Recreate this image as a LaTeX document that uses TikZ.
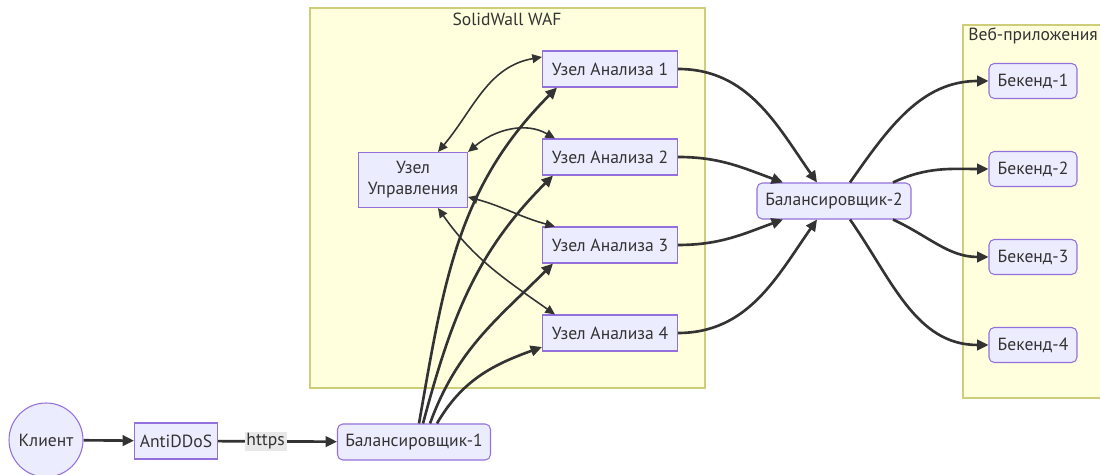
\documentclass[tikz,border=0pt]{standalone}
\usepackage{fontspec}
\setmainfont{PT Sans}
\usetikzlibrary{arrows.meta}

\definecolor{nodefill}{HTML}{ECECFF}
\definecolor{nodeline}{HTML}{9370DB}
\definecolor{clfill}{HTML}{FFFFDE}
\definecolor{clline}{HTML}{CDCD7A}
\definecolor{edgec}{HTML}{333333}
\definecolor{lblfill}{HTML}{E8E8E8}

\tikzset{
  box/.style={draw=nodeline, fill=nodefill, line width=0.6pt, text=edgec,
    minimum height=0.72cm, inner sep=2pt, font=\fontsize{10}{12}\selectfont},
  rbox/.style={box, rounded corners=3pt},
  cluster/.style={draw=clline, fill=clfill, line width=0.6pt},
  flow/.style={draw=edgec, line width=1.5pt, -{Triangle[length=6.5pt,width=6pt]}},
  ctrl/.style={draw=edgec, line width=0.9pt,
    {Triangle[length=5.5pt,width=5pt]}-{Triangle[length=5.5pt,width=5pt]}},
}

\begin{document}
\begin{tikzpicture}[x=0.02cm, y=0.02cm]

\def\xan{610}; % analysis column
\def\xbe{1033}; % backend column
\def\dy{88}; % row step

\clip (0,0) rectangle (1100,475);

% clusters
\filldraw[cluster] (310,87) rectangle (705,467);
\node[text=edgec, font=\fontsize{10}{12}\selectfont] (waf) at (507,456) {SolidWall WAF};
\filldraw[cluster] (963,77) rectangle (1120,450);
\node[text=edgec, font=\fontsize{10}{12}\selectfont, anchor=west, inner sep=0pt] (web) at (968,439) {Веб-приложения};

% entry
\node[box, circle, minimum size=1.48cm] (kl) at (46,35) {Клиент};
\node[box, minimum width=1.66cm] (ad) at (176,34) {AntiDDoS};
\node[rbox, minimum width=3.06cm] (b1) at (414,33) {Балансировщик-1};

% WAF
\node[box, align=center, minimum width=2.18cm, minimum height=1.1cm] (yu) at (413,295) {Узел\\Управления};
\foreach \i in {1,...,4}
  \node[box, minimum width=2.7cm] (a\i) at (\xan, 406-\dy*\i+\dy) {Узел Анализа \i};

\node[rbox, minimum width=3.08cm] (b2) at (834,274) {Балансировщик-2};

% backends
\foreach \i in {1,...,4}
  \node[rbox, minimum width=1.76cm, minimum height=0.7cm] (be\i) at (\xbe, 394-\dy*\i+\dy) {Бекенд-\i};

\draw[flow] (kl) -- (ad);
\draw[flow] (ad) -- node[pos=0.4, fill=lblfill, inner sep=1pt, text=edgec,
  font=\fontsize{10}{12}\selectfont] (https) {https} (b1);

% balancer 1 to analysis nodes
\draw[flow] ([xshift=0.1cm]b1.north) to[out=80, in=225] ([xshift=-1.06cm]a1.south);
\draw[flow] ([xshift=0.18cm]b1.north) to[out=75, in=225] ([xshift=-1.14cm]a2.south);
\draw[flow] ([xshift=0.32cm]b1.north) to[out=70, in=225] ([xshift=-1.14cm]a3.south);
\draw[flow] ([xshift=0.46cm]b1.north) to[out=60, in=200] ([yshift=-0.28cm]a4.west);

% control links
\draw[ctrl] ([xshift=0.5cm]yu.north) to[out=50, in=190] ([yshift=0.24cm]a1.west);
\draw[ctrl] (yu.north east) to[out=40, in=150] ([xshift=-1.1cm]a2.north);
\draw[ctrl] ([yshift=-0.34cm]yu.east) to[out=-15, in=165] ([xshift=-1.1cm]a3.north);
\draw[ctrl] ([xshift=0.5cm]yu.south) to[out=-55, in=145] ([xshift=-1.1cm]a4.north);

% analysis nodes to balancer 2
\draw[flow] (a1.east) to[out=0, in=125] ([xshift=-0.34cm]b2.north);
\draw[flow] (a2.east) to[out=0, in=160] ([xshift=-1.02cm]b2.north);
\draw[flow] (a3.east) to[out=0, in=200] ([xshift=-1.02cm]b2.south);
\draw[flow] (a4.east) to[out=0, in=235] ([xshift=-0.34cm]b2.south);

% balancer 2 to backends
\draw[flow] ([xshift=0.32cm]b2.north) to[out=55, in=180] (be1.west);
\draw[flow] ([xshift=1.18cm]b2.north) to[out=25, in=180] (be2.west);
\draw[flow] ([xshift=1.18cm]b2.south) to[out=-25, in=180] (be3.west);
\draw[flow] ([xshift=0.32cm]b2.south) to[out=-55, in=180] (be4.west);

\end{tikzpicture}
\end{document}
